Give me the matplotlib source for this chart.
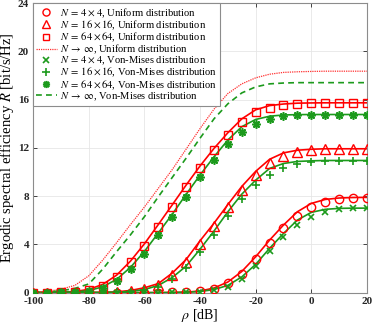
import numpy as np
import matplotlib
matplotlib.use("Agg")
import matplotlib.pyplot as plt

plt.rcParams['font.family'] = ['Liberation Serif', 'DejaVu Serif']
plt.rcParams['mathtext.fontset'] = 'stix'
plt.rcParams['axes.unicode_minus'] = False

rho_db = [-100, -95, -90, -85, -80, -75, -70, -65, -60, -55, -50, -45, -40,
          -35, -30, -25, -20, -15, -10, -5, 0, 5, 10, 15, 20]

# Simulation markers
uni_4 = [0, 0, 0, 0, 0, 0, 0, 0, 0, 0, 0.01, 0.05, 0.1, 0.33, 0.8, 1.58, 2.78,
         4.08, 5.32, 6.34, 7.06, 7.5, 7.72, 7.81, 7.86]
uni_16 = [0, 0, 0, 0, 0, 0.01, 0.05, 0.15, 0.32, 0.62, 1.46, 2.5, 4.05, 5.5,
          7.08, 8.49, 9.78, 10.7, 11.36, 11.66, 11.82, 11.88, 11.88, 11.88, 11.88]
uni_64 = [0, 0, 0.01, 0.05, 0.18, 0.56, 1.32, 2.5, 3.87, 5.46, 7.06, 8.72,
          10.29, 11.78, 13.05, 14.15, 14.93, 15.34, 15.55, 15.65, 15.7, 15.72,
          15.72, 15.72, 15.72]
vm_4 = [0, 0, 0, 0, 0, 0, 0, 0, 0, 0, 0.01, 0.03, 0.08, 0.2, 0.47, 1.16, 2.2,
        3.47, 4.63, 5.6, 6.28, 6.7, 6.9, 6.98, 7.0]
vm_16 = [0, 0, 0, 0, 0, 0, 0.02, 0.08, 0.22, 0.49, 1.13, 2.03, 3.39, 4.77,
         6.34, 7.72, 8.9, 9.73, 10.29, 10.62, 10.84, 10.9, 10.92, 10.92, 10.92]
vm_64 = [0, 0, 0.01, 0.03, 0.1, 0.36, 0.97, 1.93, 3.22, 4.75, 6.3, 7.94, 9.54,
         10.98, 12.28, 13.27, 13.96, 14.37, 14.62, 14.7, 14.76, 14.76, 14.76,
         14.76, 14.76]

# Analytical curves
uni_4_th = [0, 0, 0, 0, 0, 0, 0, 0, 0, 0, 0.01, 0.04, 0.13, 0.38, 0.88, 1.75,
            2.97, 4.35, 5.6, 6.7, 7.39, 7.72, 7.84, 7.88, 7.89]
uni_16_th = [0, 0, 0, 0, 0, 0.02, 0.06, 0.18, 0.4, 0.75, 1.62, 2.75, 4.3,
             5.75, 7.3, 8.8, 10.05, 11.05, 11.58, 11.8, 11.88, 11.92, 11.92,
             11.92, 11.92]
uni_64_th = [0, 0.01, 0.03, 0.09, 0.27, 0.68, 1.45, 2.62, 4.05, 5.65, 7.28,
             8.92, 10.5, 11.95, 13.25, 14.4, 15.15, 15.5, 15.63, 15.7, 15.72,
             15.73, 15.73, 15.73, 15.73]
uni_inf = [0.03, 0.1, 0.28, 0.6, 1.4, 2.7, 4.15, 5.65, 7.1, 8.65, 10.2, 11.9,
           13.6, 15.2, 16.5, 17.3, 17.8, 18.1, 18.25, 18.3, 18.33, 18.35,
           18.35, 18.35, 18.35]
vm_4_th = [0, 0, 0, 0, 0, 0, 0, 0, 0, 0, 0.01, 0.03, 0.09, 0.25, 0.6, 1.3,
           2.34, 3.67, 4.9, 6.01, 6.65, 6.9, 6.98, 7.0, 7.0]
vm_16_th = [0, 0, 0, 0, 0, 0.01, 0.03, 0.1, 0.25, 0.6, 1.25, 2.2, 3.6, 5.1,
            6.7, 8.16, 9.32, 10.29, 10.7, 10.87, 10.92, 10.95, 10.95, 10.95,
            10.95]
vm_64_th = [0, 0, 0.02, 0.05, 0.17, 0.48, 1.1, 2.1, 3.42, 4.95, 6.5, 8.15,
            9.75, 11.25, 12.65, 13.75, 14.35, 14.62, 14.72, 14.75, 14.76,
            14.76, 14.76, 14.76, 14.76]
vm_inf = [0.02, 0.05, 0.15, 0.35, 0.72, 1.95, 3.4, 4.8, 6.3, 7.95, 9.55,
          11.15, 12.8, 14.4, 15.65, 16.55, 17.05, 17.3, 17.37, 17.4, 17.4,
          17.4, 17.4, 17.4, 17.4]

labels = [r'$N\:=\:4\:\times\:4$, Uniform distribution',
          r'$N\:=\:16\:\times\:16$, Uniform distribution',
          r'$N\:=\:64\:\times\:64$, Uniform distribution',
          r'$N\:\rightarrow\:\infty$, Uniform distribution',
          r'$N\:=\:4\:\times\:4$, Von-Mises distribution',
          r'$N\:=\:16\:\times\:16$, Von-Mises distribution',
          r'$N\:=\:64\:\times\:64$, Von-Mises distribution',
          r'$N\:\rightarrow\:\infty$, Von-Mises distribution']

x_ticks = [-100, -80, -60, -40, -20, 0, 20]
y_ticks = [0, 4, 8, 12, 16, 20, 24]

RED = '#ff0000'
GREEN = '#1c9a1c'

fig = plt.figure(figsize=(3.74, 3.25), dpi=100)
ax = fig.add_axes([0.089, 0.0997, 0.892, 0.891])

lw = 1.2
# analytic solid curves
for y, c in [(uni_4_th, RED), (uni_16_th, RED), (uni_64_th, RED),
             (vm_4_th, GREEN), (vm_16_th, GREEN), (vm_64_th, GREEN)]:
    ax.plot(rho_db, y, '-', color=c, lw=lw, zorder=3)

h = []
h += ax.plot(rho_db, uni_4, linestyle='none', marker='o', ms=6, mfc='none',
             mec=RED, mew=1.0, zorder=4, label=labels[0])
h += ax.plot(rho_db, uni_16, linestyle='none', marker='^', ms=6.5, mfc='none',
             mec=RED, mew=1.0, zorder=4, label=labels[1])
h += ax.plot(rho_db, uni_64, linestyle='none', marker='s', ms=5.5, mfc='none',
             mec=RED, mew=1.0, zorder=4, label=labels[2])
h += ax.plot(rho_db, uni_inf, linestyle=(0, (1, 0.8)), color='#ff3030',
             lw=0.9, zorder=3, label=labels[3])
h += ax.plot(rho_db, vm_4, linestyle='none', marker='x', ms=4.5, mec=GREEN,
             mew=1.2, zorder=4, label=labels[4])
h += ax.plot(rho_db, vm_16, linestyle='none', marker='+', ms=6, mec=GREEN,
             mew=1.2, zorder=4, label=labels[5])
h += ax.plot(rho_db, vm_64, linestyle='none', marker=(8, 2, 0), ms=6,
             mec=GREEN, mew=1.2, zorder=4, label=labels[6])
h += ax.plot(rho_db, vm_inf, linestyle=(0, (3.5, 2.5)), color=GREEN, lw=1.2,
             zorder=3, label=labels[7])

ax.set_xlim(-100, 20)
ax.set_ylim(0, 24)
ax.set_xticks(x_ticks)
ax.set_yticks(y_ticks)
ax.set_xticklabels([str(t) for t in x_ticks], fontweight='bold', fontsize=8)
ax.set_yticklabels([str(t) for t in y_ticks], fontweight='bold', fontsize=8)
ax.tick_params(direction='in', length=3, width=0.6, top=True, right=True,
               colors='#262626', pad=3)
ax.grid(True, color='#e6e6e6', lw=0.6)
ax.set_axisbelow(True)
for s in ax.spines.values():
    s.set_color('#8c8c8c')
    s.set_linewidth(0.8)

ax.set_xlabel(r'$\rho$ [dB]', fontsize=10, labelpad=1)
ax.set_ylabel(r'Ergodic spectral efficiency $R$ [bit/s/Hz]', fontsize=10.5,
              labelpad=1)

leg = ax.legend(handles=h, loc='upper left', bbox_to_anchor=(0, 1),
                borderaxespad=0.0, fontsize=7.6, frameon=True, fancybox=False,
                framealpha=1, edgecolor='#8c8c8c', handlelength=1.9,
                handletextpad=0.3, labelspacing=-0.12, borderpad=0.3,
                markerscale=0.85)
leg.get_frame().set_linewidth(0.8)

fig.savefig('out.png', dpi=100)
